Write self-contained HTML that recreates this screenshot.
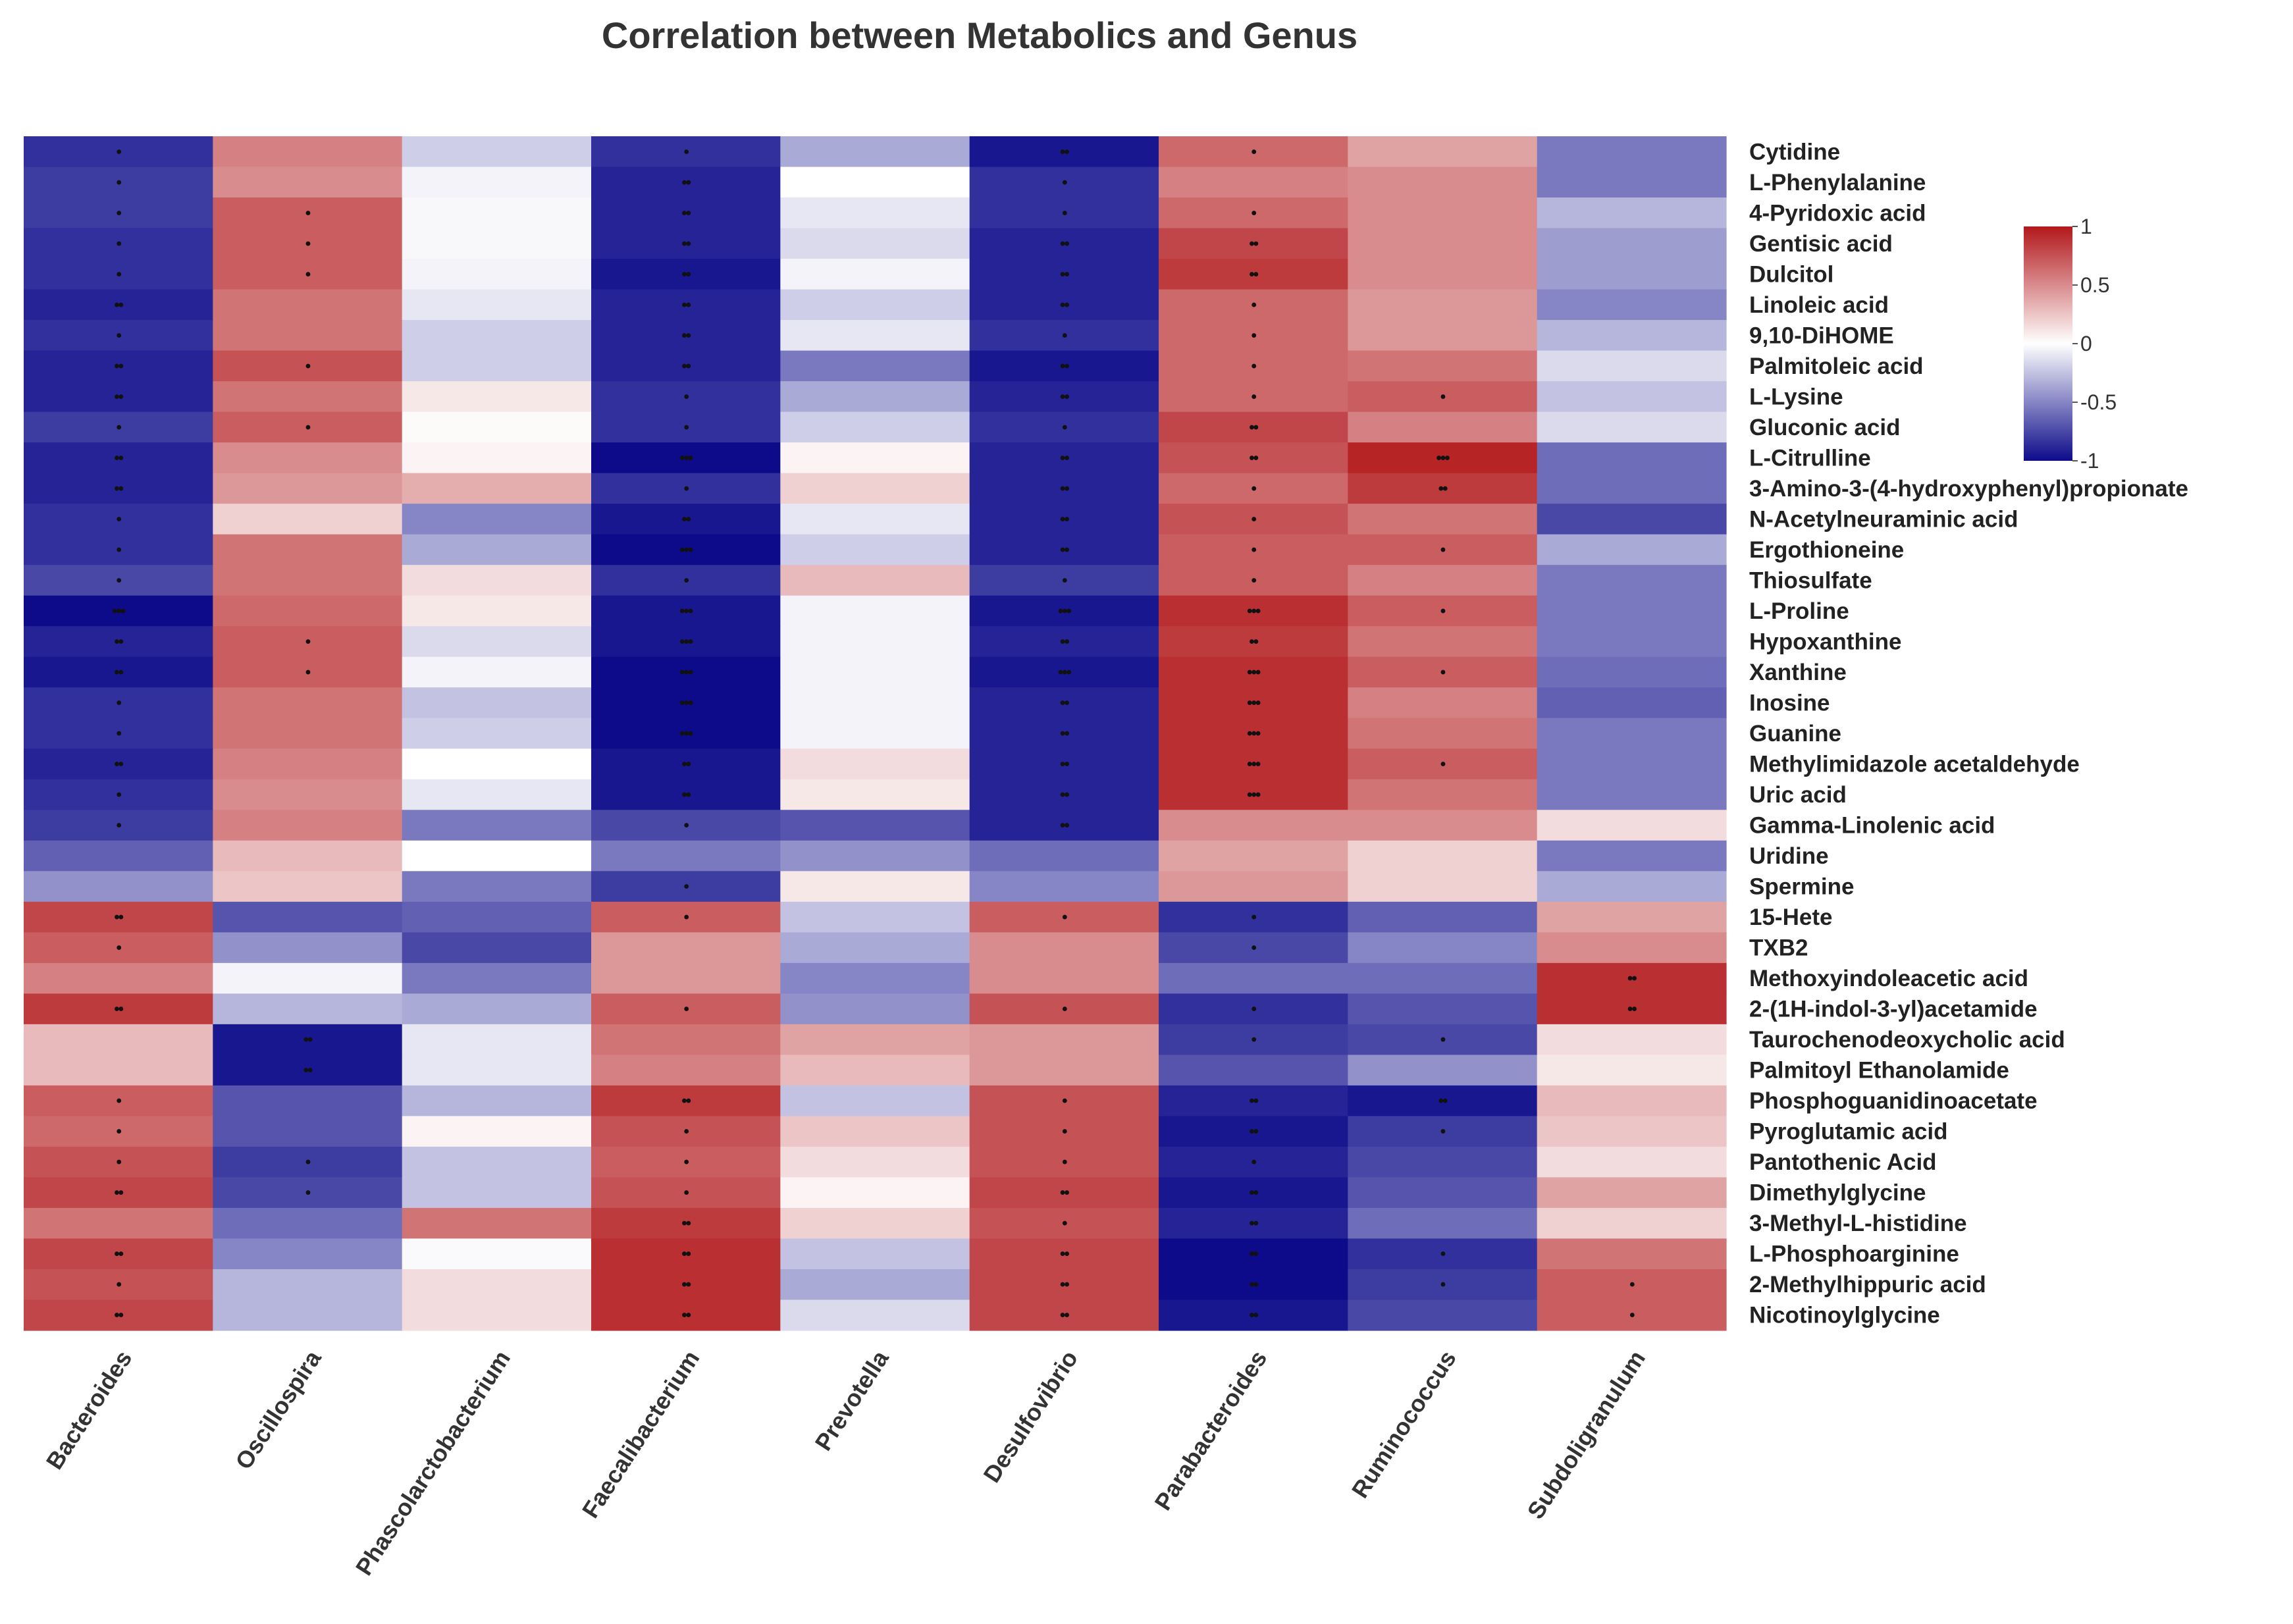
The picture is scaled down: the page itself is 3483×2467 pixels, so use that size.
<!DOCTYPE html>
<html><head><meta charset="utf-8"><title>Correlation between Metabolics and Genus</title>
<style>
html,body{margin:0;padding:0;background:#fff;}
svg{display:block;font-family:"Liberation Sans",Arial,sans-serif;}
</style></head>
<body>
<svg id="chart" width="3483" height="2467" viewBox="0 0 3483 2467" xmlns="http://www.w3.org/2000/svg">
<defs>
<linearGradient id="cbar" x1="0" y1="1" x2="0" y2="0">
<stop offset="0" stop-color="#0d0b8a"/>
<stop offset="0.25" stop-color="#8685c4"/>
<stop offset="0.5" stop-color="#ffffff"/>
<stop offset="0.75" stop-color="#d98b8d"/>
<stop offset="1" stop-color="#b2181b"/>
</linearGradient>
</defs>
<text x="1488" y="73" text-anchor="middle" font-size="56" font-weight="bold" fill="#333">Correlation between Metabolics and Genus</text>
<g id="cells"></g>
<g id="stars"></g>
<g id="ylabels"></g>
<g id="xlabels"></g>
<g>
<rect x="3074" y="344" width="74" height="356" fill="url(#cbar)"/>
<g id="cbticks"></g>
</g>
</svg>
<script>
const genera = ["Bacteroides","Oscillospira","Phascolarctobacterium","Faecalibacterium","Prevotella","Desulfovibrio","Parabacteroides","Ruminococcus","Subdoligranulum"];
const metabolites = ["Cytidine","L-Phenylalanine","4-Pyridoxic acid","Gentisic acid","Dulcitol","Linoleic acid","9,10-DiHOME","Palmitoleic acid","L-Lysine","Gluconic acid","L-Citrulline","3-Amino-3-(4-hydroxyphenyl)propionate","N-Acetylneuraminic acid","Ergothioneine","Thiosulfate","L-Proline","Hypoxanthine","Xanthine","Inosine","Guanine","Methylimidazole acetaldehyde","Uric acid","Gamma-Linolenic acid","Uridine","Spermine","15-Hete","TXB2","Methoxyindoleacetic acid","2-(1H-indol-3-yl)acetamide","Taurochenodeoxycholic acid","Palmitoyl Ethanolamide","Phosphoguanidinoacetate","Pyroglutamic acid","Pantothenic Acid","Dimethylglycine","3-Methyl-L-histidine","L-Phosphoarginine","2-Methylhippuric acid","Nicotinoylglycine"];
const values = [
[-0.85,0.55,-0.2,-0.85,-0.35,-0.95,0.65,0.4,-0.55],
[-0.8,0.5,-0.05,-0.9,0.0,-0.85,0.55,0.5,-0.55],
[-0.8,0.7,-0.03,-0.9,-0.1,-0.85,0.65,0.5,-0.3],
[-0.85,0.7,-0.03,-0.9,-0.15,-0.9,0.8,0.5,-0.4],
[-0.85,0.7,-0.05,-0.95,-0.05,-0.9,0.85,0.5,-0.4],
[-0.9,0.6,-0.1,-0.9,-0.2,-0.9,0.65,0.45,-0.5],
[-0.85,0.6,-0.2,-0.9,-0.1,-0.85,0.65,0.45,-0.3],
[-0.9,0.75,-0.2,-0.9,-0.55,-0.95,0.65,0.6,-0.15],
[-0.9,0.6,0.1,-0.85,-0.35,-0.9,0.65,0.7,-0.25],
[-0.8,0.7,0.02,-0.85,-0.2,-0.85,0.8,0.55,-0.15],
[-0.9,0.5,0.05,-1.0,0.05,-0.9,0.75,0.95,-0.6],
[-0.9,0.45,0.35,-0.85,0.2,-0.9,0.65,0.85,-0.6],
[-0.85,0.2,-0.5,-0.95,-0.1,-0.9,0.75,0.6,-0.75],
[-0.85,0.6,-0.35,-1.0,-0.2,-0.9,0.7,0.7,-0.35],
[-0.75,0.6,0.15,-0.85,0.3,-0.8,0.7,0.55,-0.55],
[-1.0,0.65,0.1,-0.95,-0.05,-0.95,0.9,0.7,-0.55],
[-0.9,0.7,-0.15,-0.95,-0.05,-0.9,0.85,0.6,-0.55],
[-0.95,0.7,-0.05,-1.0,-0.05,-0.95,0.9,0.7,-0.6],
[-0.85,0.6,-0.25,-1.0,-0.05,-0.9,0.9,0.55,-0.65],
[-0.85,0.6,-0.2,-1.0,-0.05,-0.9,0.9,0.6,-0.55],
[-0.9,0.55,0.0,-0.95,0.15,-0.9,0.9,0.7,-0.55],
[-0.85,0.5,-0.1,-0.95,0.1,-0.9,0.9,0.6,-0.55],
[-0.8,0.55,-0.55,-0.75,-0.7,-0.9,0.5,0.5,0.15],
[-0.65,0.3,0.0,-0.55,-0.45,-0.6,0.4,0.2,-0.55],
[-0.45,0.25,-0.55,-0.8,0.1,-0.5,0.45,0.2,-0.35],
[0.8,-0.7,-0.65,0.7,-0.25,0.7,-0.85,-0.65,0.4],
[0.7,-0.45,-0.75,0.45,-0.35,0.5,-0.75,-0.5,0.5],
[0.55,-0.05,-0.55,0.45,-0.5,0.5,-0.6,-0.6,0.9],
[0.85,-0.3,-0.35,0.7,-0.45,0.75,-0.85,-0.7,0.9],
[0.3,-0.95,-0.1,0.6,0.4,0.45,-0.8,-0.75,0.15],
[0.3,-0.95,-0.1,0.55,0.3,0.45,-0.7,-0.45,0.1],
[0.7,-0.7,-0.3,0.85,-0.25,0.75,-0.9,-0.95,0.3],
[0.65,-0.7,0.05,0.75,0.25,0.75,-0.95,-0.8,0.25],
[0.75,-0.8,-0.25,0.7,0.15,0.75,-0.9,-0.75,0.15],
[0.8,-0.75,-0.25,0.75,0.05,0.8,-0.95,-0.7,0.4],
[0.6,-0.6,0.6,0.85,0.2,0.75,-0.9,-0.6,0.2],
[0.8,-0.5,-0.02,0.9,-0.25,0.8,-1.0,-0.85,0.6],
[0.75,-0.3,0.15,0.9,-0.35,0.8,-1.0,-0.8,0.7],
[0.8,-0.3,0.15,0.9,-0.15,0.8,-0.95,-0.75,0.7]
];
const stars = [
[1,0,0,1,0,2,1,0,0],[1,0,0,2,0,1,0,0,0],[1,1,0,2,0,1,1,0,0],[1,1,0,2,0,2,2,0,0],[1,1,0,2,0,2,2,0,0],
[2,0,0,2,0,2,1,0,0],[1,0,0,2,0,1,1,0,0],[2,1,0,2,0,2,1,0,0],[2,0,0,1,0,2,1,1,0],[1,1,0,1,0,1,2,0,0],
[2,0,0,3,0,2,2,3,0],[2,0,0,1,0,2,1,2,0],[1,0,0,2,0,2,1,0,0],[1,0,0,3,0,2,1,1,0],[1,0,0,1,0,1,1,0,0],
[3,0,0,3,0,3,3,1,0],[2,1,0,3,0,2,2,0,0],[2,1,0,3,0,3,3,1,0],[1,0,0,3,0,2,3,0,0],[1,0,0,3,0,2,3,0,0],
[2,0,0,2,0,2,3,1,0],[1,0,0,2,0,2,3,0,0],[1,0,0,1,0,2,0,0,0],[0,0,0,0,0,0,0,0,0],[0,0,0,1,0,0,0,0,0],
[2,0,0,1,0,1,1,0,0],[1,0,0,0,0,0,1,0,0],[0,0,0,0,0,0,0,0,2],[2,0,0,1,0,1,1,0,2],[0,2,0,0,0,0,1,1,0],
[0,2,0,0,0,0,0,0,0],[1,0,0,2,0,1,2,2,0],[1,0,0,1,0,1,2,1,0],[1,1,0,1,0,1,1,0,0],[2,1,0,1,0,2,2,0,0],
[0,0,0,2,0,1,2,0,0],[2,0,0,2,0,2,2,1,0],[1,0,0,2,0,2,2,1,1],[2,0,0,2,0,2,2,0,1]
];
const cbTicks = [1,0.5,0,-0.5,-1];

const NS="http://www.w3.org/2000/svg";
const X0=36, X1=2622, Y0=207, Y1=2021;
const cw=(X1-X0)/genera.length, rh=(Y1-Y0)/metabolites.length;
function xs(i){return X0+i*cw;}
function ys(j){return Y0+j*rh;}
const neg=[13,11,138], pos=[178,24,27];
function color(v){
  v=Math.max(-1,Math.min(1,v));
  const t=Math.abs(v), c=v<0?neg:pos;
  const r=c.map(k=>Math.round(255+(k-255)*t));
  return `rgb(${r[0]},${r[1]},${r[2]})`;
}
function el(tag,attrs,parent){const e=document.createElementNS(NS,tag);for(const k in attrs)e.setAttribute(k,attrs[k]);parent.appendChild(e);return e;}
const gc=document.getElementById('cells'), gs=document.getElementById('stars');
values.forEach((row,j)=>{
  row.forEach((v,i)=>{
    const r=el('rect',{x:xs(i),y:ys(j),width:cw+0.6,height:rh+0.6,fill:color(v)},gc);
    
    
    const n=stars[j][i];
    if(n>0){
      const t=el('text',{x:xs(i)+cw/2,y:ys(j)+rh/2+8,'text-anchor':'middle','font-size':24,'font-weight':'bold',fill:'#111','letter-spacing':'-2'},gs);
      t.textContent='•'.repeat(n);
      
      
    }
  });
});
const gy=document.getElementById('ylabels');
metabolites.forEach((m,j)=>{
  const t=el('text',{x:2657,y:ys(j)+rh/2+12,'font-size':35,'font-weight':'bold',fill:'#222'},gy);
  t.textContent=m;
  
  
});
const gx=document.getElementById('xlabels');
genera.forEach((g,i)=>{
  const cx=xs(i)+cw/2+22, cy=2062;
  const t=el('text',{x:cx,y:cy,'text-anchor':'end','font-size':36,'font-weight':'bold',fill:'#333',transform:`rotate(-57 ${cx} ${cy})`},gx);
  t.textContent=g;
  
  
});
const gt=document.getElementById('cbticks');
cbTicks.forEach(v=>{
  const y=344+(1-v)/2*356;
  const l=el('line',{x1:3148,x2:3156,y1:y,y2:y,stroke:'#555','stroke-width':2},gt);
  
  
  const t=el('text',{x:3160,y:y+11,'font-size':32,fill:'#333'},gt);
  t.textContent=String(v);
  
  
});
</script>
</body></html>
